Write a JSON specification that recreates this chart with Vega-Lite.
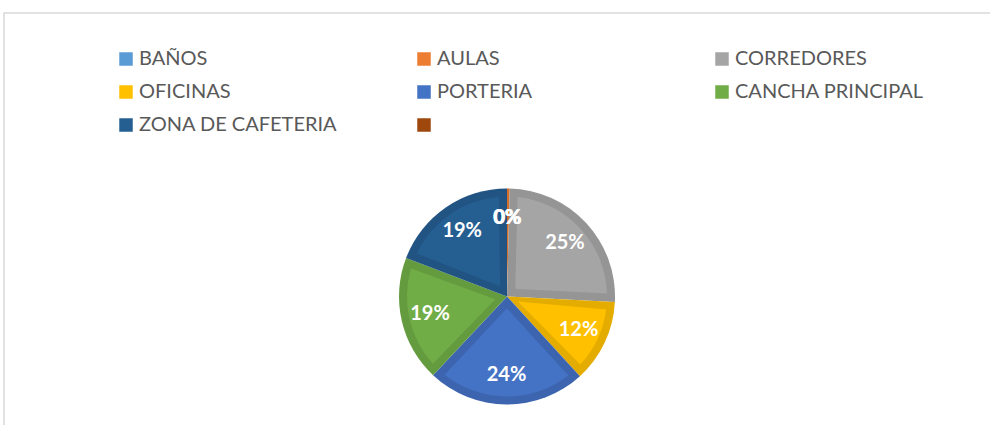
{
  "$schema": "https://vega.github.io/schema/vega-lite/v6.json",
  "width": 1006,
  "height": 567,
  "autosize": {"type": "none"},
  "padding": {"left": 4, "top": 13, "right": -20, "bottom": -155},
  "background": "white",
  "view": {"stroke": "#d9d9d9", "strokeWidth": 1.5, "fill": "white"},
  "config": {"view": {"stroke": "#d9d9d9", "strokeWidth": 1.5}, "style": {"view": {"stroke": "#d9d9d9", "strokeWidth": 1.5}}, "font": "Lato"},
  "data": {
    "values": [
      {"area": "BAÑOS", "share": 0},
      {"area": "AULAS", "share": 0.004},
      {"area": "CORREDORES", "share": 0.254},
      {"area": "OFICINAS", "share": 0.124},
      {"area": "PORTERIA", "share": 0.238},
      {"area": "CANCHA PRINCIPAL", "share": 0.188},
      {"area": "ZONA DE CAFETERIA", "share": 0.192},
      {"area": "", "share": 0}
    ]
  },
  "transform": [{"window": [{"op": "row_number", "as": "rank"}]}],
  "layer": [
    {
      "mark": {"type": "arc", "outerRadius": 108},
      "encoding": {
        "theta": {"field": "share", "type": "quantitative", "stack": true},
        "order": {"field": "rank", "type": "quantitative"},
        "color": {
          "field": "area", "type": "nominal",
          "scale": {
            "domain": ["BAÑOS", "OFICINAS", "ZONA DE CAFETERIA", "AULAS", "PORTERIA", "", "CORREDORES", "CANCHA PRINCIPAL"],
            "range": ["#4F89BF", "#E5AC00", "#215383", "#D36E2A", "#3D65AF", "#8E400C", "#959595", "#649B3F"]
          },
          "legend": null
        }
      }
    },
    {
      "mark": {"type": "arc", "outerRadius": 100, "innerRadius": 12, "padAngle": 0.16},
      "encoding": {
        "theta": {"field": "share", "type": "quantitative", "stack": true},
        "order": {"field": "rank", "type": "quantitative"},
        "color": {
          "field": "area", "type": "nominal",
          "scale": {
            "domain": ["BAÑOS", "OFICINAS", "ZONA DE CAFETERIA", "AULAS", "PORTERIA", "", "CORREDORES", "CANCHA PRINCIPAL"],
            "range": ["#5B9BD5", "#FFC000", "#255E91", "#ED7D31", "#4472C4", "#9E480E", "#A5A5A5", "#70AD47"]
          },
          "legend": {
            "title": null,
            "orient": "none",
            "legendX": 112,
            "legendY": 36,
            "columns": 3,
            "gridAlign": "all",
            "columnPadding": 76,
            "rowPadding": 13,
            "symbolType": "square",
            "symbolSize": 182,
            "symbolStrokeWidth": 0,
            "labelFont": "Lato",
            "labelFontSize": 20,
            "labelColor": "#595959",
            "labelOffset": 3,
            "labelLimit": 400,
            "padding": 0
          }
        }
      }
    },
    {
      "mark": {"type": "text", "radius": 79, "fontSize": 20, "fontWeight": "bold", "font": "Lato"},
      "encoding": {
        "theta": {"field": "share", "type": "quantitative", "stack": true},
        "order": {"field": "rank", "type": "quantitative"},
        "color": {
          "field": "area", "type": "nominal",
          "scale": {
            "domain": ["BAÑOS", "OFICINAS", "ZONA DE CAFETERIA", "AULAS", "PORTERIA", "", "CORREDORES", "CANCHA PRINCIPAL"],
            "range": ["#ffffff", "#ffffff", "#ffffff", "#ffffff", "#ffffff", "#ffffff", "#ffffff", "#ffffff"]
          },
          "legend": null
        },
        "text": {"field": "share", "type": "quantitative", "format": ".0%"}
      }
    }
  ],
  "resolve": {"scale": {"color": "independent"}}
}
